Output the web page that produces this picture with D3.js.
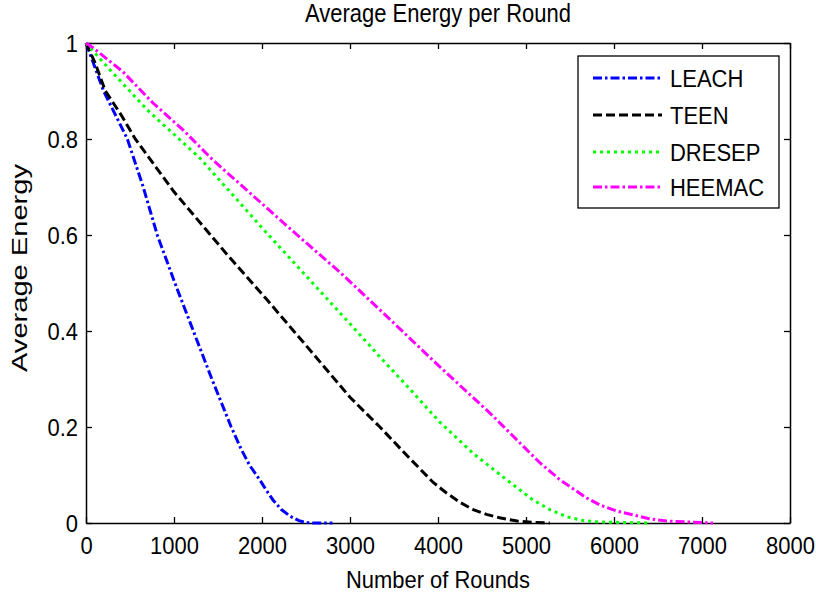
<!DOCTYPE html>
<html>
<head>
<meta charset="utf-8">
<script src="https://cdn.jsdelivr.net/npm/d3@7"></script>
<style>
  body{margin:0;background:#fff;}
  text{font-family:"Liberation Sans", Arial, sans-serif;fill:#000;}
</style>
</head>
<body>
<svg id="main" width="816" height="595"></svg>
<script>
//--------data----------
// [rounds, average energy]
const leach = [[0,1],[100,0.95],[200,0.9],[470,0.8],[650,0.7],[810,0.6],[1010,0.5],[1220,0.4],[1430,0.3],
  [1650,0.2],[1760,0.155],[1860,0.12],[1974,0.09],[2050,0.068],[2125,0.048],[2220,0.028],[2320,0.014],
  [2420,0.005],[2500,0.001],[2550,0],[2800,0]];
const teen = [[0,1],[100,0.96],[220,0.9],[400,0.85],[560,0.8],[800,0.74],[1000,0.69],[1300,0.625],[1600,0.56],
  [2057,0.465],[2500,0.37],[3000,0.262],[3340,0.2],[3650,0.14],[3943,0.085],[4100,0.062],[4250,0.043],
  [4400,0.028],[4550,0.018],[4700,0.011],[4900,0.004],[5100,0.001],[5270,0]];
const dresep = [[0,1],[273,0.944],[700,0.86],[1295,0.76],[1636,0.69],[2000,0.615],[2500,0.515],[3000,0.415],
  [3340,0.346],[3700,0.275],[4020,0.21],[4400,0.145],[4780,0.09],[5080,0.048],[5280,0.027],[5465,0.013],
  [5650,0.005],[5840,0.002],[6390,0]];
const heemac = [[0,1],[80,0.99],[420,0.94],[761,0.875],[1102,0.819],[1443,0.756],[1864,0.6875],[2400,0.6],
  [2900,0.52],[3340,0.444],[4023,0.325],[4590,0.229],[5160,0.125],[5386,0.09],[5690,0.052],[5840,0.0375],
  [6030,0.025],[6216,0.017],[6400,0.009],[6600,0.004],[7125,0]];

const seriesNames = ['LEACH','TEEN','DRESEP','HEEMAC'];
const seriesData = [leach, teen, dresep, heemac];
const xTicks = [0,1000,2000,3000,4000,5000,6000,7000,8000];
const yTicks = [0,0.2,0.4,0.6,0.8,1];
const yTickLabels = ['0','0.2','0.4','0.6','0.8','1'];

//--------code----------
const colors = ['#0000ff','#000000','#00ff00','#ff00ff'];
const dashes = ['9,3,2.5,3','9,4','3,4','9,3,2.5,3'];
const SY = 1.08; // the picture's text is a bit taller than it is wide

let svg = d3.select('#main');
let sx = d3.scaleLinear().domain([0,8000]).range([86,790]);
let sy = d3.scaleLinear().domain([0,1]).range([523,43]);

// frame with ticks on all four sides
let gx = svg.append('g').attr('transform', `translate(0,${sy(0)})`)
  .call(d3.axisBottom(sx).tickValues(xTicks).tickFormat(d3.format('d'))
    .tickSizeInner(-6).tickSizeOuter(0).tickPadding(0));
let gy = svg.append('g').attr('transform', `translate(${sx(0)},0)`)
  .call(d3.axisLeft(sy).tickValues(yTicks).tickFormat((d,i)=>yTickLabels[i]).tickSizeInner(-6).tickSizeOuter(0));
svg.append('g').attr('transform', `translate(0,${sy(1)})`)
  .call(d3.axisTop(sx).tickValues(xTicks).tickSizeInner(-6).tickSizeOuter(0).tickFormat(''));
svg.append('g').attr('transform', `translate(${sx(8000)},0)`)
  .call(d3.axisRight(sy).tickValues(yTicks).tickSizeInner(-6).tickSizeOuter(0).tickFormat(''));

svg.selectAll('.domain').attr('stroke','#000').attr('stroke-width',1.5);
svg.selectAll('.tick line').attr('stroke','#000').attr('stroke-width',1.3);

gx.selectAll('.tick text')
  .attr('font-size',22).attr('font-family',null)
  .attr('dy',null).attr('y', 31/SY)
  .attr('transform', `scale(1,${SY})`);
gy.selectAll('.tick text')
  .attr('font-size',22).attr('font-family',null)
  .attr('dy',null).attr('x',-8).attr('y', 8.5/SY)
  .attr('transform', `scale(1,${SY})`);

// series
let line = d3.line().x(d=>sx(d[0])).y(d=>sy(d[1]));
svg.selectAll('.series')
  .data(seriesData)
  .join('path')
  .attr('class','series')
  .attr('d', line)
  .attr('fill','none')
  .attr('stroke',(d,i)=>colors[i])
  .attr('stroke-width',3)
  .attr('stroke-dasharray',(d,i)=>dashes[i]);

// labels
svg.append('text')
  .attr('transform', `translate(${(sx(0)+sx(8000))/2},22) scale(1,1.2)`)
  .attr('text-anchor','middle').attr('font-size',22)
  .text('Average Energy per Round');
svg.append('text')
  .attr('transform', `translate(${(sx(0)+sx(8000))/2},588) scale(1,${SY})`)
  .attr('text-anchor','middle').attr('font-size',22)
  .attr('textLength',184).attr('lengthAdjust','spacingAndGlyphs')
  .text('Number of Rounds');
svg.append('text')
  .attr('transform', 'translate(27,268) rotate(-90)')
  .attr('text-anchor','middle').attr('font-size',22)
  .attr('textLength',208).attr('lengthAdjust','spacingAndGlyphs')
  .text('Average Energy');

// legend
let lg = svg.append('g');
lg.append('rect').attr('x',578).attr('y',56).attr('width',201).attr('height',152)
  .attr('fill','#fff').attr('stroke','#000').attr('stroke-width',1.3);
let rows = [78,115,152,187];
seriesNames.forEach((name,i)=>{
  lg.append('line').attr('x1',593).attr('x2',662).attr('y1',rows[i]).attr('y2',rows[i])
    .attr('stroke',colors[i]).attr('stroke-width',3).attr('stroke-dasharray',dashes[i]);
  lg.append('text')
    .attr('transform', `translate(670,${rows[i]+8.5}) scale(1,${SY})`)
    .attr('font-size',22)
    .text(name);
});
</script>
</body>
</html>
